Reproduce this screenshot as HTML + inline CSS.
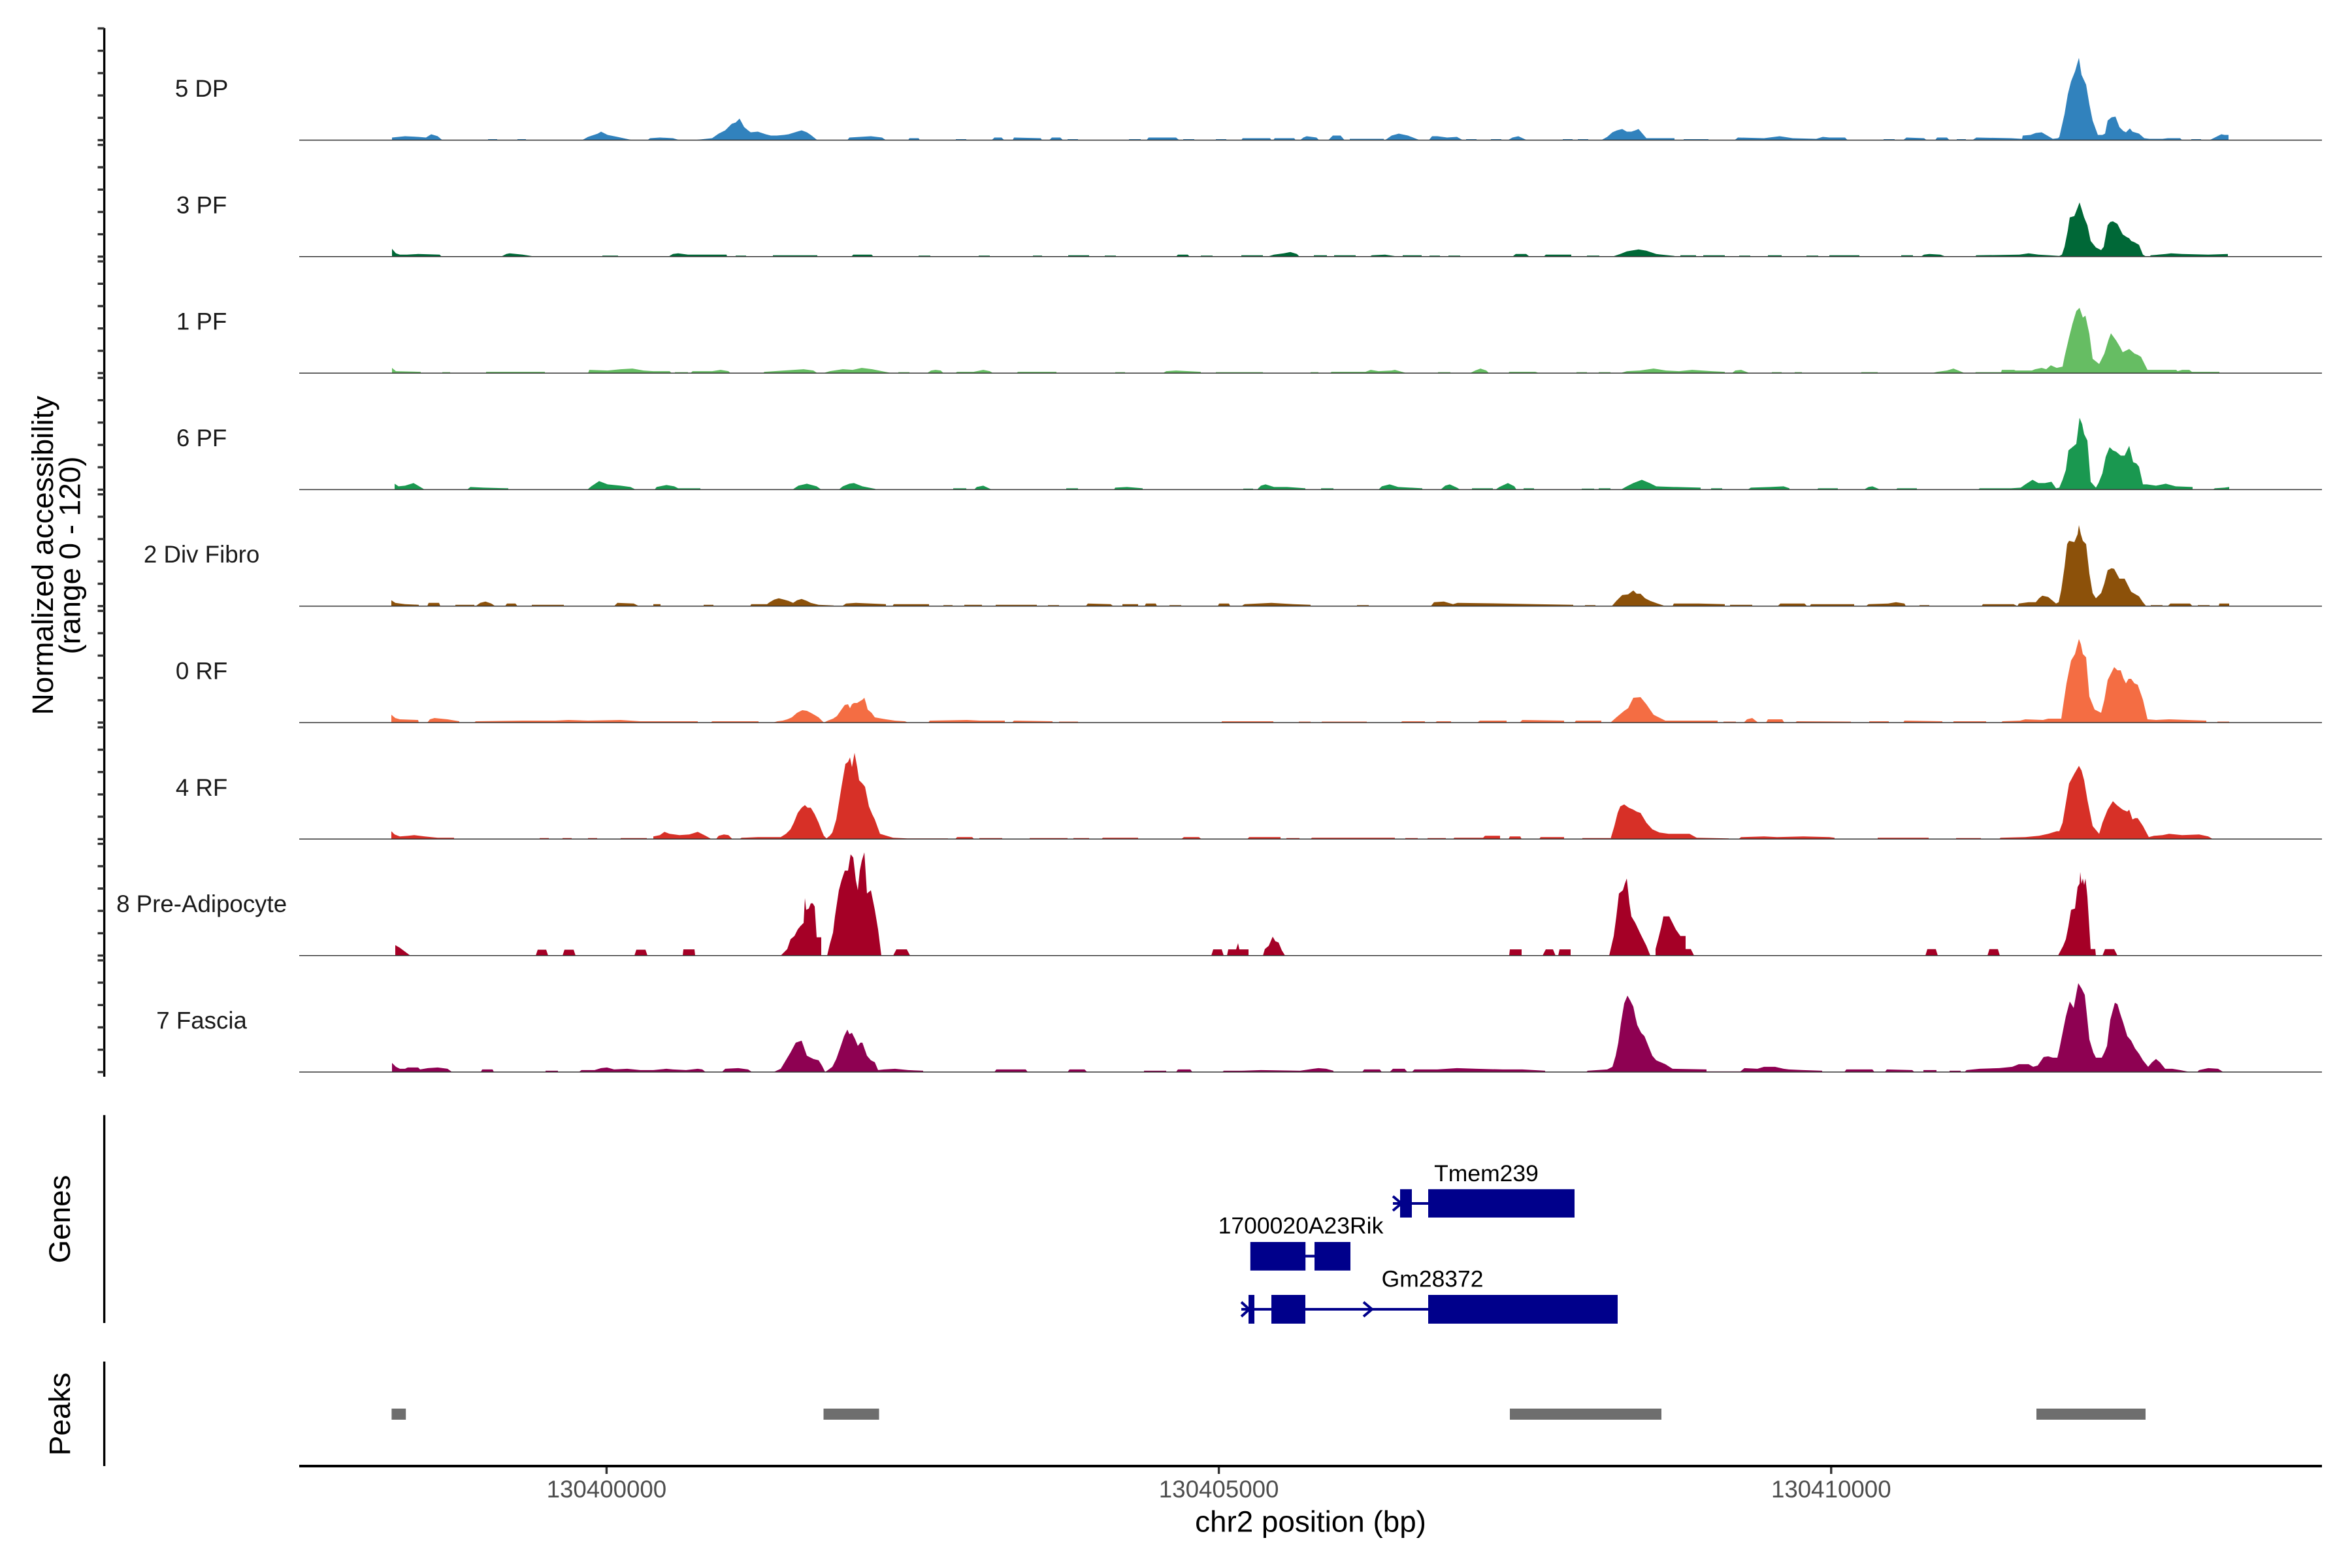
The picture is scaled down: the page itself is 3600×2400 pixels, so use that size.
<!DOCTYPE html>
<html>
<head>
<meta charset="utf-8">
<style>
html,body{margin:0;padding:0;background:#fff;}
svg{display:block;}
text{font-family:"Liberation Sans",Arial,sans-serif;}
</style>
</head>
<body>
<svg width="3600" height="2400" viewBox="0 0 3600 2400" xmlns="http://www.w3.org/2000/svg">
<rect x="0" y="0" width="3600" height="2400" fill="#fff"/>

<!-- Y axis title -->
<text transform="translate(81,850) rotate(-90)" text-anchor="middle" font-size="45.8" fill="#000">Normalized accessibility</text>
<text transform="translate(122.4,850) rotate(-90)" text-anchor="middle" font-size="45.8" fill="#000">(range 0 - 120)</text>
<text transform="translate(107,1866) rotate(-90)" text-anchor="middle" font-size="45.8" fill="#000">Genes</text>
<text transform="translate(107,2164.5) rotate(-90)" text-anchor="middle" font-size="45.8" fill="#000">Peaks</text>

<!-- left axis lines -->
<line x1="159.6" y1="43" x2="159.6" y2="1648" stroke="#000" stroke-width="3.4"/>
<line x1="159.6" y1="1706.7" x2="159.6" y2="2025" stroke="#000" stroke-width="3.4"/>
<line x1="159.6" y1="2084" x2="159.6" y2="2244" stroke="#000" stroke-width="3.4"/>
<path stroke="#333" stroke-width="3.4" fill="none" d="
M149.5,214.5H159.6M149.5,180.3H159.6M149.5,146.1H159.6M149.5,111.9H159.6M149.5,77.7H159.6M149.5,43.5H159.6
M149.5,392.8H159.6M149.5,358.6H159.6M149.5,324.4H159.6M149.5,290.2H159.6M149.5,256H159.6M149.5,221.8H159.6
M149.5,571.1H159.6M149.5,536.9H159.6M149.5,502.7H159.6M149.5,468.5H159.6M149.5,434.3H159.6M149.5,400.1H159.6
M149.5,749.4H159.6M149.5,715.2H159.6M149.5,681H159.6M149.5,646.8H159.6M149.5,612.6H159.6M149.5,578.4H159.6
M149.5,927.7H159.6M149.5,893.5H159.6M149.5,859.3H159.6M149.5,825.1H159.6M149.5,790.9H159.6M149.5,756.7H159.6
M149.5,1106H159.6M149.5,1071.8H159.6M149.5,1037.6H159.6M149.5,1003.4H159.6M149.5,969.2H159.6M149.5,935H159.6
M149.5,1284.3H159.6M149.5,1250.1H159.6M149.5,1215.9H159.6M149.5,1181.7H159.6M149.5,1147.5H159.6M149.5,1113.3H159.6
M149.5,1462.6H159.6M149.5,1428.4H159.6M149.5,1394.2H159.6M149.5,1360H159.6M149.5,1325.8H159.6M149.5,1291.6H159.6
M149.5,1640.9H159.6M149.5,1606.7H159.6M149.5,1572.5H159.6M149.5,1538.3H159.6M149.5,1504.1H159.6M149.5,1469.9H159.6"/>

<!-- facet labels -->
<g font-size="36.7" fill="#1a1a1a" text-anchor="middle">
<text x="308.6" y="148">5 DP</text>
<text x="308.6" y="326.3">3 PF</text>
<text x="308.6" y="504.6">1 PF</text>
<text x="308.6" y="682.9">6 PF</text>
<text x="308.6" y="861.2">2 Div Fibro</text>
<text x="308.6" y="1039.5">0 RF</text>
<text x="308.6" y="1217.8">4 RF</text>
<text x="308.6" y="1396.1">8 Pre-Adipocyte</text>
<text x="308.6" y="1574.4">7 Fascia</text>
</g>

<!-- Track 1: 5 DP -->
<g transform="translate(0,214.5)">
<path fill="#3182bd" d="M600,0 L600,-4 L620,-6 L640,-5 L652,-4 L660,-9 L670,-6 L677,0Z
M747,0 v-1.5 h14 v1.5Z M792,0 v-1.5 h13 v1.5Z
M891,0 L900,-5 L915,-10 L920,-13 L930,-8 L945,-5 L968,0Z
M991,0 L995,-3 L1010,-4 L1030,-3 L1040,0Z
M1062,0 L1090,-3 L1100,-10 L1110,-15 L1120,-25 L1126,-27 L1132,-33 L1139,-20 L1145,-15 L1149,-12 L1160,-13 L1172,-9 L1180,-7 L1189,-7 L1200,-8 L1207,-9 L1220,-13 L1227,-15 L1235,-12 L1241,-8 L1251,0Z
M1297,0 L1300,-4 L1333,-6 L1350,-4 L1356,0Z
M1390,0 L1392,-3 L1406,-3 L1408,0Z
M1463,0 v-1.5 h16 v1.5Z
M1518,0 L1522,-4 L1533,-4 L1537,0Z
M1550,0 L1552,-4 L1593,-3 L1595,0Z
M1606,0 L1610,-4 L1623,-4 L1627,0Z
M1634,0 v-1.5 h16 v1.5Z M1728,0 v-1.5 h18 v1.5Z
M1755,0 L1758,-4 L1800,-4 L1805,0Z
M1811,0 v-1.5 h17 v1.5Z M1861,0 v-1.5 h16 v1.5Z
M1900,0 L1902,-3 L1944,-3 L1946,0Z
M1949,0 L1951,-3 L1981,-3 L1983,0Z
M1990,0 L1995,-4 L2000,-6 L2015,-4 L2019,0Z
M2033,0 L2040,-7 L2052,-7 L2058,0Z
M2066,0 v-2 h52 v2Z
M2120,0 L2130,-7 L2141,-10 L2155,-7 L2173,0Z
M2187,0 L2192,-6 L2200,-6 L2215,-4 L2230,-5 L2239,0Z
M2244,0 v-1.5 h16 v1.5Z M2282,0 v-1.5 h16 v1.5Z
M2308,0 L2315,-4 L2324,-6 L2337,0Z
M2392,0 v-1.5 h15 v1.5Z M2415,0 v-1.5 h16 v1.5Z
M2451,0 L2460,-5 L2468,-12 L2475,-15 L2483,-17 L2490,-13 L2497,-13 L2503,-15 L2508,-17 L2514,-10 L2520,-3 L2563,-3 L2563,0Z
M2577,0 v-1.5 h38 v1.5Z
M2655,0 L2660,-4 L2700,-3 L2724,-6 L2744,-3 L2780,-2 L2790,-5 L2800,-4 L2824,-4 L2828,0Z
M2883,0 v-1.5 h17 v1.5Z
M2913,0 L2918,-4 L2945,-3 L2949,0Z
M2962,0 L2965,-4 L2980,-4 L2984,0Z
M2995,0 v-1.5 h14 v1.5Z
M3019,0 L3025,-4 L3078,-3 L3095,-2 L3096,-7 L3108,-8 L3116,-11 L3125,-12 L3137,-5 L3142,-2 L3150,-3 L3152,-5 L3160,-40 L3165,-70 L3170,-90 L3176,-105 L3182,-126 L3186,-100 L3193,-85 L3198,-55 L3203,-30 L3211,-8 L3218,-8 L3222,-10 L3226,-30 L3232,-35 L3238,-36 L3244,-20 L3250,-14 L3254,-12 L3260,-18 L3264,-13 L3274,-10 L3282,-3 L3290,-2 L3310,-2 L3318,-3 L3337,-3 L3340,0Z
M3354,0 v-1.5 h15 v1.5Z
M3382,0 L3390,-4 L3400,-9 L3405,-8 L3411,-8 L3411,0Z"/>
<line x1="458" y1="0" x2="3554" y2="0" stroke="#333" stroke-width="1.5"/>
</g>

<!-- Track 2: 3 PF -->
<g transform="translate(0,392.8)">
<path fill="#006837" d="M600,0 L600,-12 L606,-5 L612,-3 L623,-3 L640,-4 L673,-3 L676,0Z
M767,0 L775,-4 L780,-5 L800,-3 L819,0Z
M922,0 v-1.5 h24 v1.5Z
M1023,0 L1030,-4 L1038,-5 L1053,-3 L1112,-3 L1113,0Z
M1126,0 v-1.5 h16 v1.5Z M1183,0 v-2 h68 v2Z
M1303,0 L1306,-3 L1334,-3 L1337,0Z
M1406,0 v-1.5 h18 v1.5Z M1498,0 v-1.5 h17 v1.5Z M1581,0 v-1.5 h14 v1.5Z
M1635,0 v-2 h32 v2Z M1691,0 v-1.5 h17 v1.5Z
M1800,0 L1803,-3 L1818,-3 L1821,0Z
M1838,0 v-1.5 h18 v1.5Z M1900,0 v-2 h33 v2Z
M1940,0 L1950,-3 L1965,-5 L1975,-7 L1985,-4 L1989,0Z
M2011,0 v-2 h20 v2Z M2042,0 v-2 h33 v2Z
M2096,0 L2100,-2 L2120,-3 L2140,0Z
M2147,0 v-2 h29 v2Z M2188,0 v-1.5 h16 v1.5Z M2217,0 v-1.5 h18 v1.5Z
M2315,0 L2320,-4 L2336,-4 L2341,0Z
M2363,0 L2366,-3 L2405,-3 L2405,0Z
M2429,0 v-1.5 h19 v1.5Z
M2468,0 L2480,-4 L2490,-8 L2508,-11 L2520,-9 L2535,-4 L2563,-1 L2563,0Z
M2572,0 v-2 h24 v2Z M2607,0 v-2 h33 v2Z M2662,0 v-1.5 h17 v1.5Z
M2706,0 v-2 h21 v2Z M2765,0 v-1.5 h18 v1.5Z M2800,0 v-2 h46 v2Z M2910,0 v-2 h18 v2Z
M2940,0 L2945,-3 L2953,-4 L2970,-3 L2978,0Z
M3023,0 L3025,-2 L3091,-3 L3105,-5 L3120,-3 L3137,-2 L3152,-1 L3156,-3 L3160,-15 L3165,-40 L3168,-60 L3175,-62 L3180,-75 L3183,-83 L3187,-70 L3190,-60 L3195,-48 L3200,-24 L3208,-14 L3216,-10 L3220,-15 L3226,-48 L3230,-53 L3234,-54 L3241,-50 L3249,-34 L3255,-30 L3259,-28 L3262,-24 L3267,-22 L3274,-18 L3280,-3 L3285,0Z
M3290,0 L3292,-2 L3315,-4 L3323,-5 L3340,-4 L3380,-3 L3410,-4 L3410,0Z"/>
<line x1="458" y1="0" x2="3554" y2="0" stroke="#333" stroke-width="1.5"/>
</g>

<!-- Track 3: 1 PF -->
<g transform="translate(0,571.1)">
<path fill="#66bd63" d="M600,0 L600,-8 L606,-3 L644,-2 L644,0Z
M677,0 v-1.5 h12 v1.5Z M744,0 v-2 h90 v2Z
M900,0 L902,-5 L930,-4 L950,-6 L968,-7 L985,-4 L1000,-3 L1025,-3 L1028,0Z
M1033,0 v-1.5 h20 v1.5Z
M1057,0 L1060,-3 L1090,-3 L1103,-5 L1115,-3 L1118,0Z
M1168,0 L1170,-2 L1200,-4 L1230,-6 L1245,-4 L1251,0Z
M1260,0 L1270,-3 L1290,-6 L1305,-5 L1319,-8 L1335,-6 L1350,-3 L1365,0Z
M1375,0 v-1.5 h17 v1.5Z
M1419,0 L1425,-4 L1432,-5 L1440,-4 L1444,0Z
M1462,0 L1465,-2 L1490,-2 L1505,-5 L1515,-3 L1520,0Z
M1556,0 L1558,-2 L1617,-2 L1617,0Z
M1707,0 v-1.5 h15 v1.5Z
M1780,0 L1785,-3 L1800,-4 L1838,-2 L1838,0Z
M1861,0 v-1.5 h72 v1.5Z M2006,0 v-1.5 h12 v1.5Z
M2036,0 L2038,-2 L2090,-2 L2098,-5 L2110,-3 L2130,-4 L2135,-5 L2153,0Z
M2201,0 v-1.5 h19 v1.5Z
M2250,0 L2258,-4 L2266,-7 L2275,-4 L2279,0Z
M2309,0 L2310,-2 L2350,-2 L2356,0Z
M2413,0 v-1.5 h16 v1.5Z M2447,0 v-1.5 h18 v1.5Z
M2480,0 L2490,-3 L2510,-4 L2531,-7 L2550,-4 L2570,-3 L2590,-5 L2620,-3 L2640,-2 L2640,0Z
M2651,0 L2656,-4 L2665,-5 L2678,0Z
M2712,0 v-1.5 h15 v1.5Z M2747,0 v-1.5 h11 v1.5Z M2849,0 v-1.5 h25 v1.5Z
M2957,0 L2965,-2 L2980,-4 L2990,-7 L3000,-3 L3007,0Z
M3023,0 L3024,-1.5 L3063,-1.5 L3064,-5 L3083,-5 L3085,-4 L3110,-4 L3115,-6 L3125,-8 L3132,-6 L3139,-12 L3148,-8 L3157,-10 L3160,-25 L3167,-55 L3172,-75 L3178,-95 L3183,-100 L3188,-85 L3192,-88 L3198,-60 L3203,-22 L3213,-14 L3221,-30 L3227,-50 L3231,-61 L3239,-50 L3245,-40 L3249,-32 L3255,-35 L3259,-37 L3267,-30 L3272,-28 L3277,-25 L3287,-5 L3331,-5 L3333,-3 L3340,-5 L3351,-5 L3355,-2 L3397,-2 L3397,0Z"/>
<line x1="458" y1="0" x2="3554" y2="0" stroke="#333" stroke-width="1.5"/>
</g>

<!-- Track 4: 6 PF -->
<g transform="translate(0,749.4)">
<path fill="#1a9850" d="M604,0 L604,-9 L610,-5 L620,-6 L633,-10 L640,-6 L650,0Z
M715,0 L720,-4 L740,-3 L778,-2 L778,0Z
M899,0 L905,-5 L917,-13 L930,-8 L950,-6 L965,-4 L973,0Z
M1002,0 L1005,-4 L1020,-7 L1032,-5 L1038,-2 L1072,-2 L1072,0Z
M1213,0 L1222,-6 L1235,-9 L1250,-5 L1257,0Z
M1284,0 L1290,-5 L1300,-9 L1307,-10 L1320,-5 L1340,-1 L1340,0Z
M1459,0 v-2 h20 v2Z
M1491,0 L1495,-4 L1505,-6 L1518,0Z
M1632,0 v-2 h18 v2Z
M1705,0 L1707,-3 L1725,-4 L1749,-2 L1749,0Z
M1903,0 v-1.5 h15 v1.5Z
M1924,0 L1930,-6 L1937,-8 L1950,-4 L1970,-4 L1998,-2 L1998,0Z
M2022,0 v-2 h19 v2Z
M2110,0 L2115,-5 L2127,-8 L2140,-4 L2177,-2 L2177,0Z
M2205,0 L2212,-6 L2219,-8 L2230,-3 L2235,0Z
M2253,0 v-2 h32 v2Z
M2289,0 L2295,-4 L2308,-10 L2318,-5 L2321,0Z
M2332,0 v-2 h16 v2Z M2421,0 v-1.5 h19 v1.5Z M2447,0 v-2 h18 v2Z
M2481,0 L2490,-5 L2500,-10 L2513,-15 L2525,-10 L2535,-5 L2562,-4 L2566,-4 L2603,-3 L2603,0Z
M2619,0 v-2 h17 v2Z
M2675,0 L2680,-3 L2710,-4 L2730,-5 L2739,-2 L2739,0Z
M2781,0 L2783,-2 L2813,-2 L2813,0Z
M2853,0 L2860,-4 L2866,-5 L2878,0Z
M2902,0 L2904,-2 L2934,-2 L2934,0Z
M3028,0 L3030,-2 L3078,-2 L3093,-3 L3100,-8 L3111,-15 L3120,-10 L3130,-10 L3140,-12 L3147,-2 L3152,-3 L3157,-15 L3162,-30 L3166,-60 L3172,-65 L3178,-70 L3183,-110 L3187,-100 L3190,-85 L3195,-75 L3200,-12 L3208,-3 L3212,-10 L3218,-25 L3223,-50 L3229,-65 L3234,-60 L3239,-58 L3246,-52 L3252,-52 L3259,-67 L3265,-42 L3270,-40 L3274,-35 L3280,-8 L3286,-8 L3300,-6 L3315,-9 L3330,-5 L3356,-4 L3356,0Z
M3387,0 L3390,-2 L3405,-3 L3412,-4 L3412,0Z"/>
<line x1="458" y1="0" x2="3554" y2="0" stroke="#333" stroke-width="1.5"/>
</g>

<!-- Track 5: 2 Div Fibro -->
<g transform="translate(0,927.7)">
<path fill="#8c510a" d="M599,0 L599,-9 L605,-5 L620,-3 L641,-2 L641,0Z
M654,0 L656,-5 L672,-5 L674,0Z
M697,0 v-2 h29 v2Z
M728,0 L735,-5 L743,-7 L752,-4 L758,0Z
M773,0 L776,-4 L789,-4 L792,0Z
M814,0 v-2 h49 v2Z
M940,0 L945,-5 L970,-4 L978,0Z
M1000,0 v-3 h11 v3Z M1077,0 v-2 h15 v2Z
M1148,0 L1150,-3 L1174,-3 L1178,-6 L1185,-10 L1192,-12 L1200,-10 L1207,-8 L1214,-5 L1220,-9 L1227,-11 L1235,-8 L1241,-5 L1253,-2 L1276,-1 L1276,0Z
M1289,0 L1295,-4 L1310,-5 L1356,-3 L1356,0Z
M1366,0 L1368,-3 L1422,-3 L1422,0Z
M1444,0 v-1.5 h14 v1.5Z M1476,0 v-2 h27 v2Z M1524,0 v-2 h63 v2Z M1604,0 v-1.5 h17 v1.5Z
M1662,0 L1665,-4 L1700,-3 L1704,0Z
M1718,0 v-3 h24 v3Z
M1752,0 L1754,-4 L1769,-4 L1771,0Z
M1790,0 v-1.5 h18 v1.5Z
M1864,0 L1866,-4 L1881,-4 L1883,0Z
M1900,0 L1905,-3 L1946,-5 L1980,-3 L2006,-2 L2006,0Z
M2077,0 v-1.5 h18 v1.5Z
M2190,0 L2195,-6 L2210,-7 L2224,-3 L2231,-5 L2300,-4 L2350,-3 L2408,-2 L2408,0Z
M2426,0 v-1.5 h16 v1.5Z
M2467,0 L2474,-8 L2483,-17 L2492,-18 L2500,-24 L2505,-19 L2511,-19 L2518,-12 L2526,-8 L2537,-4 L2549,0Z
M2560,0 L2562,-4 L2600,-4 L2640,-3 L2640,0Z
M2648,0 v-2 h34 v2Z
M2721,0 L2725,-4 L2762,-4 L2766,0Z
M2770,0 L2772,-3 L2838,-3 L2838,0Z
M2856,0 L2860,-3 L2890,-4 L2902,-6 L2915,-4 L2917,0Z
M2938,0 v-1.5 h15 v1.5Z
M3033,0 L3035,-3 L3082,-3 L3088,0 L3090,-4 L3105,-6 L3116,-6 L3121,-12 L3126,-16 L3135,-14 L3147,-4 L3151,-6 L3155,-25 L3160,-60 L3164,-95 L3167,-100 L3175,-98 L3180,-110 L3182,-124 L3185,-110 L3188,-100 L3193,-95 L3198,-50 L3203,-20 L3208,-12 L3216,-20 L3221,-35 L3226,-55 L3232,-58 L3236,-57 L3244,-42 L3252,-42 L3258,-30 L3262,-22 L3274,-15 L3280,-6 L3285,0Z
M3292,0 v-1.5 h18 v1.5Z
M3318,0 L3322,-4 L3352,-4 L3356,0Z
M3364,0 v-1.5 h18 v1.5Z
M3396,0 L3397,-4 L3412,-4 L3412,0Z"/>
<line x1="458" y1="0" x2="3554" y2="0" stroke="#333" stroke-width="1.5"/>
</g>

<!-- Track 6: 0 RF -->
<g transform="translate(0,1106)">
<path fill="#f46d43" d="M599,0 L599,-12 L605,-7 L612,-5 L640,-4 L641,0Z
M654,0 L658,-5 L665,-7 L685,-5 L703,-2 L703,0Z
M726,0 L728,-2 L800,-3 L850,-3 L870,-4 L900,-3 L950,-4 L980,-2 L1000,-2 L1068,-2 L1068,0Z
M1088,0 L1090,-2 L1161,-2 L1161,0Z
M1183,0 L1190,-2 L1198,-3 L1205,-5 L1212,-8 L1220,-15 L1228,-19 L1235,-18 L1241,-15 L1248,-11 L1253,-8 L1261,0 L1267,-3 L1275,-6 L1281,-10 L1288,-20 L1293,-27 L1298,-28 L1301,-22 L1304,-28 L1307,-30 L1312,-30 L1315,-32 L1320,-35 L1323,-38 L1326,-28 L1328,-20 L1334,-15 L1339,-8 L1356,-5 L1370,-3 L1385,-2 L1390,0Z
M1421,0 L1423,-3 L1480,-4 L1500,-3 L1538,-3 L1538,0Z
M1549,0 L1552,-3 L1611,-2 L1611,0Z
M1621,0 v-1.5 h29 v1.5Z
M1870,0 v-2 h79 v2Z M1988,0 v-1.5 h18 v1.5Z M2023,0 v-1.5 h69 v1.5Z
M2144,0 L2146,-2 L2181,-2 L2181,0Z
M2197,0 L2199,-2 L2221,-2 L2221,0Z
M2261,0 L2265,-3 L2306,-3 L2306,0Z
M2326,0 L2330,-4 L2394,-3 L2394,0Z
M2410,0 L2412,-3 L2451,-3 L2451,0Z
M2465,0 L2474,-8 L2486,-18 L2492,-22 L2500,-38 L2511,-39 L2520,-28 L2531,-12 L2549,-3 L2629,-3 L2629,0Z
M2638,0 v-1.5 h19 v1.5Z
M2669,0 L2674,-5 L2682,-7 L2691,0Z
M2703,0 L2706,-5 L2728,-5 L2731,0Z
M2748,0 L2750,-2 L2833,-1.5 L2833,0Z
M2861,0 v-2 h30 v2Z
M2913,0 L2915,-3 L2973,-2 L2973,0Z
M2990,0 v-2 h50 v2Z
M3063,0 L3065,-2 L3092,-3 L3100,-5 L3127,-4 L3135,-6 L3155,-6 L3157,-20 L3163,-60 L3170,-95 L3176,-105 L3182,-128 L3185,-120 L3188,-105 L3193,-100 L3198,-40 L3206,-20 L3216,-15 L3221,-35 L3226,-65 L3231,-75 L3236,-85 L3241,-80 L3246,-80 L3250,-68 L3254,-60 L3258,-67 L3262,-67 L3267,-60 L3272,-58 L3280,-35 L3287,-5 L3300,-4 L3320,-5 L3377,-3 L3377,0Z
M3394,0 v-1.5 h18 v1.5Z"/>
<line x1="458" y1="0" x2="3554" y2="0" stroke="#333" stroke-width="1.5"/>
</g>

<!-- Track 7: 4 RF -->
<g transform="translate(0,1284.3)">
<path fill="#d73027" d="M599,0 L599,-12 L604,-7 L612,-4 L625,-5 L634,-6 L650,-4 L670,-2 L695,-2 L695,0Z
M826,0 v-1.5 h14 v1.5Z M861,0 v-1.5 h14 v1.5Z M900,0 v-1.5 h14 v1.5Z M950,0 v-1.5 h40 v1.5Z
M1000,0 L1000,-4 L1010,-6 L1017,-11 L1025,-8 L1040,-6 L1055,-7 L1068,-11 L1080,-5 L1089,0Z
M1096,0 L1100,-5 L1108,-7 L1115,-6 L1121,0Z
M1132,0 L1135,-2 L1160,-3 L1195,-3 L1203,-8 L1210,-15 L1215,-25 L1221,-40 L1227,-48 L1232,-52 L1236,-48 L1241,-48 L1247,-38 L1253,-25 L1258,-12 L1261,-5 L1265,-1 L1270,-5 L1274,-10 L1280,-30 L1284,-55 L1288,-80 L1294,-115 L1298,-118 L1301,-125 L1304,-110 L1308,-132 L1312,-110 L1315,-90 L1320,-85 L1324,-80 L1330,-50 L1335,-38 L1339,-30 L1347,-8 L1367,-2 L1389,-1 L1451,-1 L1451,0Z
M1462,0 L1465,-3 L1488,-3 L1491,0Z
M1499,0 v-1.5 h35 v1.5Z M1576,0 v-1.5 h58 v1.5Z M1643,0 v-1.5 h24 v1.5Z
M1686,0 L1688,-2 L1742,-2 L1742,0Z
M1808,0 L1812,-3 L1835,-3 L1839,0Z
M1909,0 L1912,-3 L1960,-3 L1960,0Z
M1969,0 v-1.5 h20 v1.5Z
M2006,0 L2008,-2 L2135,-2 L2135,0Z
M2151,0 v-1.5 h19 v1.5Z M2185,0 v-1.5 h28 v1.5Z
M2224,0 L2226,-2 L2270,-2 L2273,-5 L2296,-5 L2296,0Z
M2309,0 L2311,-4 L2327,-4 L2329,0Z
M2356,0 L2358,-3 L2394,-3 L2394,0Z
M2422,0 v-1.5 h43 v1.5Z
M2465,0 L2471,-20 L2476,-40 L2480,-50 L2486,-53 L2493,-48 L2500,-45 L2505,-42 L2511,-40 L2520,-25 L2529,-15 L2540,-10 L2554,-8 L2586,-8 L2597,-2 L2646,-1 L2646,0Z
M2661,0 L2665,-3 L2700,-4 L2720,-3 L2760,-4 L2800,-3 L2808,-2 L2808,0Z
M2874,0 v-2 h78 v2Z M2994,0 v-1.5 h38 v1.5Z
M3060,0 L3062,-2 L3100,-3 L3121,-5 L3135,-8 L3148,-12 L3152,-12 L3157,-25 L3162,-55 L3167,-85 L3175,-100 L3182,-112 L3186,-105 L3190,-90 L3195,-60 L3203,-20 L3213,-8 L3218,-25 L3226,-45 L3234,-58 L3240,-52 L3249,-45 L3256,-42 L3259,-45 L3264,-30 L3268,-32 L3272,-32 L3280,-20 L3289,-3 L3297,-5 L3310,-6 L3320,-8 L3340,-6 L3366,-7 L3380,-4 L3387,0Z"/>
<line x1="458" y1="0" x2="3554" y2="0" stroke="#333" stroke-width="1.5"/>
</g>

<!-- Track 8: 8 Pre-Adipocyte -->
<g transform="translate(0,1462.6)">
<path fill="#a50026" d="M605,0 L605,-16 L612,-12 L628,0Z
M820,0 L823,-9 L836,-9 L839,0Z
M861,0 L864,-9 L878,-9 L881,0Z
M971,0 L974,-9 L988,-9 L991,0Z
M1045,0 L1046,-9.5 L1063,-9.5 L1064,0Z
M1195,0 L1205,-10 L1210,-25 L1216,-30 L1221,-40 L1225,-45 L1230,-50 L1232,-88 L1234,-70 L1238,-72 L1241,-80 L1244,-80 L1247,-75 L1250,-28 L1257,-28 L1257,0Z
M1266,0 L1270,-17 L1275,-35 L1278,-60 L1284,-100 L1288,-115 L1293,-130 L1298,-130 L1302,-155 L1306,-150 L1310,-115 L1313,-100 L1316,-130 L1319,-145 L1323,-158 L1327,-95 L1333,-100 L1339,-70 L1344,-40 L1349,0Z
M1367,0 L1372,-9.5 L1388,-9.5 L1393,0Z
M1854,0 L1857,-9.5 L1870,-9.5 L1873,0Z
M1878,0 L1880,-9.5 L1892,-9.5 L1895,-19 L1897,-9.5 L1911,-9.5 L1911,0Z
M1933,0 L1936,-10 L1942,-15 L1948,-29 L1952,-22 L1957,-20 L1962,-8 L1967,0Z
M2310,0 L2311,-9.5 L2329,-9.5 L2329,0Z
M2361,0 L2366,-9.5 L2377,-9.5 L2381,0Z
M2385,0 L2387,-9.5 L2404,-9.5 L2404,0Z
M2463,0 L2470,-30 L2474,-60 L2478,-95 L2484,-100 L2487,-110 L2490,-118 L2494,-80 L2497,-60 L2503,-50 L2511,-33 L2520,-15 L2526,0 L2534,0 L2534,-10 L2538,-25 L2543,-45 L2546,-60 L2555,-60 L2560,-50 L2565,-40 L2572,-30 L2580,-30 L2580,-10 L2588,-10 L2593,0Z
M2947,0 L2950,-9.8 L2963,-9.8 L2966,0Z
M3042,0 L3045,-9.8 L3058,-9.8 L3061,0Z
M3150,0 L3158,-15 L3162,-25 L3166,-45 L3170,-70 L3176,-72 L3180,-105 L3183,-110 L3184,-128 L3186,-110 L3188,-118 L3190,-108 L3192,-118 L3194,-100 L3195,-90 L3200,-10 L3207,-10 L3208,0Z
M3218,0 L3222,-9.8 L3236,-9.8 L3241,0Z"/>
<line x1="458" y1="0" x2="3554" y2="0" stroke="#333" stroke-width="1.5"/>
</g>

<!-- Track 9: 7 Fascia -->
<g transform="translate(0,1640.9)">
<path fill="#8e0152" d="M600,0 L600,-14 L606,-8 L612,-5 L620,-5 L624,-7 L640,-7 L643,-4 L655,-6 L670,-7 L685,-5 L692,0Z
M736,0 L738,-4 L754,-4 L756,0Z
M835,0 v-2 h19 v2Z
M886,0 L890,-3 L910,-3 L920,-6 L929,-7 L940,-4 L960,-5 L980,-3 L1000,-3 L1010,-4 L1020,-5 L1030,-4 L1050,-3 L1068,-5 L1075,-4 L1080,0Z
M1105,0 L1110,-5 L1130,-6 L1145,-4 L1151,0Z
M1184,0 L1195,-5 L1201,-15 L1210,-30 L1218,-45 L1227,-48 L1235,-25 L1245,-20 L1253,-18 L1258,-10 L1263,0 L1274,-8 L1280,-20 L1287,-40 L1292,-55 L1297,-65 L1300,-58 L1304,-60 L1309,-50 L1313,-40 L1317,-45 L1320,-45 L1327,-25 L1333,-18 L1339,-15 L1344,-3 L1353,-4 L1370,-5 L1390,-3 L1413,-2 L1413,0Z
M1522,0 L1525,-4 L1570,-4 L1573,0Z
M1634,0 L1637,-4 L1660,-4 L1664,0Z
M1751,0 v-2 h34 v2Z
M1800,0 L1803,-4 L1822,-4 L1825,0Z
M1871,0 L1873,-2 L1900,-2 L1930,-3 L1990,-2 L2010,-5 L2018,-6 L2030,-5 L2041,-2 L2041,0Z
M2085,0 L2088,-4 L2112,-4 L2115,0Z
M2127,0 L2132,-5 L2150,-5 L2154,0Z
M2161,0 L2165,-4 L2200,-4 L2230,-6 L2260,-5 L2300,-4 L2330,-4 L2365,-2 L2365,0Z
M2428,0 L2430,-2 L2460,-4 L2468,-8 L2473,-25 L2477,-45 L2481,-75 L2486,-105 L2491,-117 L2495,-110 L2500,-100 L2503,-85 L2506,-72 L2512,-60 L2517,-55 L2523,-40 L2529,-25 L2535,-18 L2549,-12 L2560,-5 L2612,-4 L2612,-1 L2664,-1 L2670,-6 L2690,-5 L2700,-8 L2717,-8 L2730,-5 L2738,-4 L2760,-3 L2789,-2 L2789,0Z
M2823,0 L2826,-4 L2866,-4 L2869,0Z
M2885,0 L2888,-4 L2927,-3 L2930,0Z
M2944,0 v-3 h20 v3Z M2984,0 v-2 h17 v2Z
M3007,0 L3010,-3 L3030,-5 L3060,-6 L3080,-8 L3090,-12 L3105,-12 L3112,-8 L3119,-10 L3128,-23 L3135,-24 L3142,-22 L3149,-22 L3152,-35 L3156,-55 L3162,-85 L3168,-108 L3174,-98 L3178,-120 L3181,-136 L3186,-128 L3191,-118 L3195,-80 L3198,-50 L3204,-30 L3208,-22 L3217,-22 L3221,-30 L3225,-40 L3230,-80 L3237,-106 L3241,-104 L3245,-90 L3250,-75 L3256,-55 L3262,-48 L3268,-36 L3274,-28 L3280,-18 L3288,-8 L3294,-15 L3300,-20 L3306,-15 L3314,-5 L3325,-5 L3337,-3 L3352,0Z
M3363,0 L3366,-3 L3380,-6 L3395,-5 L3403,0Z"/>
<line x1="458" y1="0" x2="3554" y2="0" stroke="#333" stroke-width="1.5"/>
</g>

<!-- Genes -->
<g fill="#00008b" stroke="none">
<line x1="2132" y1="1842" x2="2410" y2="1842" stroke="#00008b" stroke-width="4"/>
<rect x="2143" y="1820.2" width="18" height="43.4"/>
<rect x="2186" y="1820.2" width="224" height="43.4"/>
<polyline points="2132,1831 2145,1842 2132,1853" fill="none" stroke="#00008b" stroke-width="4"/>
<line x1="1914" y1="1922.6" x2="2067" y2="1922.6" stroke="#00008b" stroke-width="4"/>
<rect x="1913.8" y="1901" width="84.4" height="43.7"/>
<rect x="2012" y="1901" width="55" height="43.7"/>
<line x1="1900" y1="2004" x2="2476" y2="2004" stroke="#00008b" stroke-width="4"/>
<rect x="1911" y="1982" width="9" height="44"/>
<rect x="1946" y="1982" width="52" height="44"/>
<rect x="2186" y="1982" width="290" height="44"/>
<polyline points="1900,1993 1912,2004 1900,2015" fill="none" stroke="#00008b" stroke-width="4"/>
<polyline points="2087,1993 2100,2004 2087,2015" fill="none" stroke="#00008b" stroke-width="4"/>
</g>
<g font-size="35.5" fill="#000" text-anchor="middle">
<text x="2275" y="1808">Tmem239</text>
<text x="1991" y="1888">1700020A23Rik</text>
<text x="2192.6" y="1969.5">Gm28372</text>
</g>

<!-- Peaks -->
<g fill="#6e6e6e">
<rect x="599.4" y="2156" width="21.8" height="17"/>
<rect x="1260.5" y="2156" width="85" height="17"/>
<rect x="2311" y="2156" width="232" height="17"/>
<rect x="3117" y="2156" width="167" height="17"/>
</g>

<!-- X axis -->
<line x1="458" y1="2244" x2="3554" y2="2244" stroke="#000" stroke-width="4"/>
<path stroke="#333" stroke-width="3.4" d="M928.4,2246V2256M1865.6,2246V2256M2802.8,2246V2256"/>
<g font-size="36.7" fill="#4d4d4d" text-anchor="middle">
<text x="928.4" y="2292">130400000</text>
<text x="1865.6" y="2292">130405000</text>
<text x="2802.8" y="2292">130410000</text>
</g>
<text x="2006" y="2344.7" font-size="45.8" fill="#000" text-anchor="middle">chr2 position (bp)</text>
</svg>
</body>
</html>
